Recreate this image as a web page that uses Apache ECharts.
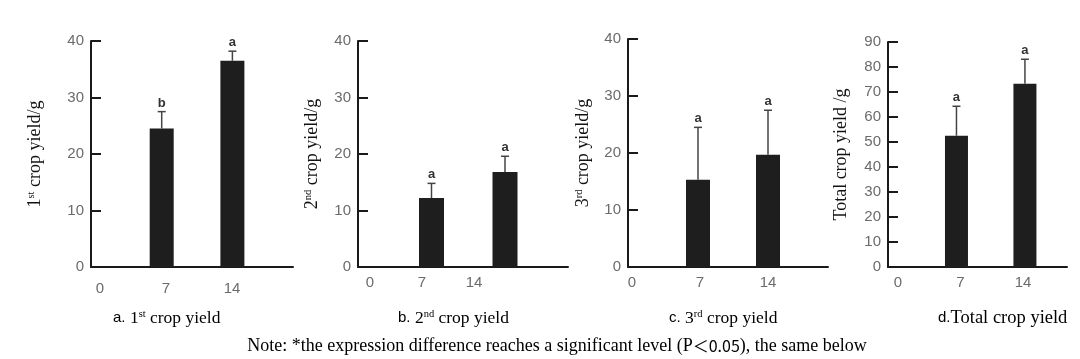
<!DOCTYPE html>
<html><head><meta charset="utf-8">
<script src="https://cdn.jsdelivr.net/npm/echarts@6/dist/echarts.min.js"></script>
<style>html,body{margin:0;padding:0;background:#fff}#c{width:1080px;height:359px}</style>
</head><body><div id="c"></div>
<script>
// ---- data ----
const dayLabels = ['0', '7', '14'];
const barDays = [7, 14];
const yield1 = [24.5, 36.5];
const err1 = [3.0, 1.7];
const sig1 = ['b', 'a'];
const yield2 = [12.2, 16.8];
const err2 = [2.6, 2.8];
const sig2 = ['a', 'a'];
const yield3 = [15.3, 19.7];
const err3 = [9.2, 7.8];
const sig3 = ['a', 'a'];
const yieldT = [52.5, 73.3];
const errT = [11.8, 9.8];
const sigT = ['a', 'a'];
const yMax = [40, 40, 40, 90];
const yInterval = 10;

// ---- layout ----
const SERIF = '"Liberation Serif", "Times New Roman", serif';
const SANS = '"Liberation Sans", Arial, sans-serif';
const panels = [
  {vals: yield1, errs: err1, sig: sig1, ymax: yMax[0], left: 91, width: 202, top: 41, height: 226, xmax: 20,
   lab: {left: 100, width: 132, margin: 14}, nameGap: 47, barW: 24,
   yname: '{n|1}{s|st}{n| crop yield/g}', cap: {x: 113, text: '{l|a.}{n| 1}{s|st}{n| crop yield}'}},
  {vals: yield2, errs: err2, sig: sig2, ymax: yMax[1], left: 358, width: 210, top: 41, height: 226, xmax: 20,
   lab: {left: 370, width: 104, margin: 8}, nameGap: 37, barW: 25,
   yname: '{n|2}{s|nd}{n| crop yield/g}', cap: {x: 398, text: '{l|b.}{n| 2}{s|nd}{n| crop yield}'}},
  {vals: yield3, errs: err3, sig: sig3, ymax: yMax[2], left: 628, width: 200, top: 39, height: 228, xmax: 20,
   lab: {left: 632, width: 136, margin: 8}, nameGap: 36, barW: 24,
   yname: '{n|3}{s|rd}{n| crop yield/g}', cap: {x: 669, text: '{l|c.}{n| 3}{s|rd}{n| crop yield}'}},
  {vals: yieldT, errs: errT, sig: sigT, ymax: yMax[3], left: 888, width: 179, top: 42, height: 225, xmax: 18.3,
   lab: {left: 898, width: 125, margin: 8}, nameGap: 38, barW: 23,
   yname: '{n|Total crop yield /g}', cap: {x: 938, text: '{l|d.}{d|Total crop yield}'}}
];

const richName = {
  n: {fontFamily: SERIF, fontSize: 18, color: '#111'},
  s: {fontFamily: SERIF, fontSize: 10.5, color: '#111', verticalAlign: 'top', lineHeight: 18}
};
const richCap = {
  l: {fontFamily: SANS, fontSize: 15, color: '#666'},
  n: {fontFamily: SERIF, fontSize: 17.5, color: '#111'},
  d: {fontFamily: SERIF, fontSize: 18.5, color: '#111'},
  s: {fontFamily: SERIF, fontSize: 10.5, color: '#111', verticalAlign: 'top', lineHeight: 17}
};

const grid = [], xAxis = [], yAxis = [], series = [], graphic = [];
panels.forEach((p, i) => {
  const gi = grid.length;
  grid.push({left: p.left, top: p.top, width: p.width, height: p.height, containLabel: false});
  xAxis.push({gridIndex: gi, type: 'value', min: 0, max: p.xmax,
    axisLine: {show: true, onZero: false, lineStyle: {color: '#1a1a1a', width: 2}},
    axisTick: {show: false}, axisLabel: {show: false}, splitLine: {show: false}});
  yAxis.push({gridIndex: gi, type: 'value', min: 0, max: p.ymax, interval: yInterval,
    name: p.yname, nameLocation: 'middle', nameRotate: 90, nameGap: p.nameGap,
    nameTextStyle: {rich: richName},
    axisLine: {show: true, lineStyle: {color: '#1a1a1a', width: 2}},
    axisTick: {show: true, inside: true, length: 10, lineStyle: {color: '#1a1a1a', width: 2}},
    axisLabel: {color: '#6b6b6b', fontFamily: SANS, fontSize: 15, margin: 7},
    splitLine: {show: false}});
  series.push({type: 'bar', xAxisIndex: gi, yAxisIndex: gi, barWidth: p.barW,
    itemStyle: {color: '#1e1e1e'}, silent: true,
    data: barDays.map((d, k) => [d, p.vals[k]])});
  const sig = p.sig;
  series.push({type: 'custom', xAxisIndex: gi, yAxisIndex: gi, silent: true, z: 3,
    data: barDays.map((d, k) => [d, p.vals[k], p.errs[k]]),
    renderItem: (params, api) => {
      const x = api.value(0), v = api.value(1), e = api.value(2);
      const p0 = api.coord([x, v]);
      const p1 = api.coord([x, v + e]);
      const st = {stroke: '#444', lineWidth: 1.5};
      return {type: 'group', children: [
        {type: 'line', shape: {x1: p0[0], y1: p0[1], x2: p1[0], y2: p1[1]}, style: st},
        {type: 'line', shape: {x1: p1[0] - 4, y1: p1[1], x2: p1[0] + 4, y2: p1[1]}, style: st},
        {type: 'text', x: p1[0], y: p1[1] - 2, style: {text: sig[params.dataIndex], align: 'center',
          verticalAlign: 'bottom', font: 'bold 13px ' + SANS, fill: '#333'}}
      ]};
    }});
  // label axis grid (day ticks)
  const li = grid.length;
  grid.push({left: p.lab.left, top: p.top, width: p.lab.width, height: p.height});
  xAxis.push({gridIndex: li, type: 'category', data: dayLabels, boundaryGap: false,
    axisLine: {show: false}, axisTick: {show: false}, splitLine: {show: false},
    axisLabel: {color: '#6b6b6b', fontFamily: SANS, fontSize: 15, margin: p.lab.margin, interval: 0}});
  yAxis.push({gridIndex: li, type: 'value', show: false, min: 0, max: 1});
  graphic.push({type: 'text', x: p.cap.x, y: 318, style: {text: p.cap.text, rich: richCap,
    align: 'left', verticalAlign: 'middle'}});
});
graphic.push({type: 'text', x: 557, y: 346, style: {
  text: '{n|Note: *the expression difference reaches a significant level (P}{m|＜0.05}{n|), the same below}',
  align: 'center', verticalAlign: 'middle',
  rich: {n: {fontFamily: SERIF, fontSize: 18, color: '#111'},
         m: {fontFamily: '"Noto Sans CJK SC", "Noto Sans", sans-serif', fontSize: 16, color: '#111'}}}});

const chart = echarts.init(document.getElementById('c'), null, {renderer: 'canvas'});
chart.setOption({animation: false, backgroundColor: '#fff', grid, xAxis, yAxis, series, graphic});
</script></body></html>
